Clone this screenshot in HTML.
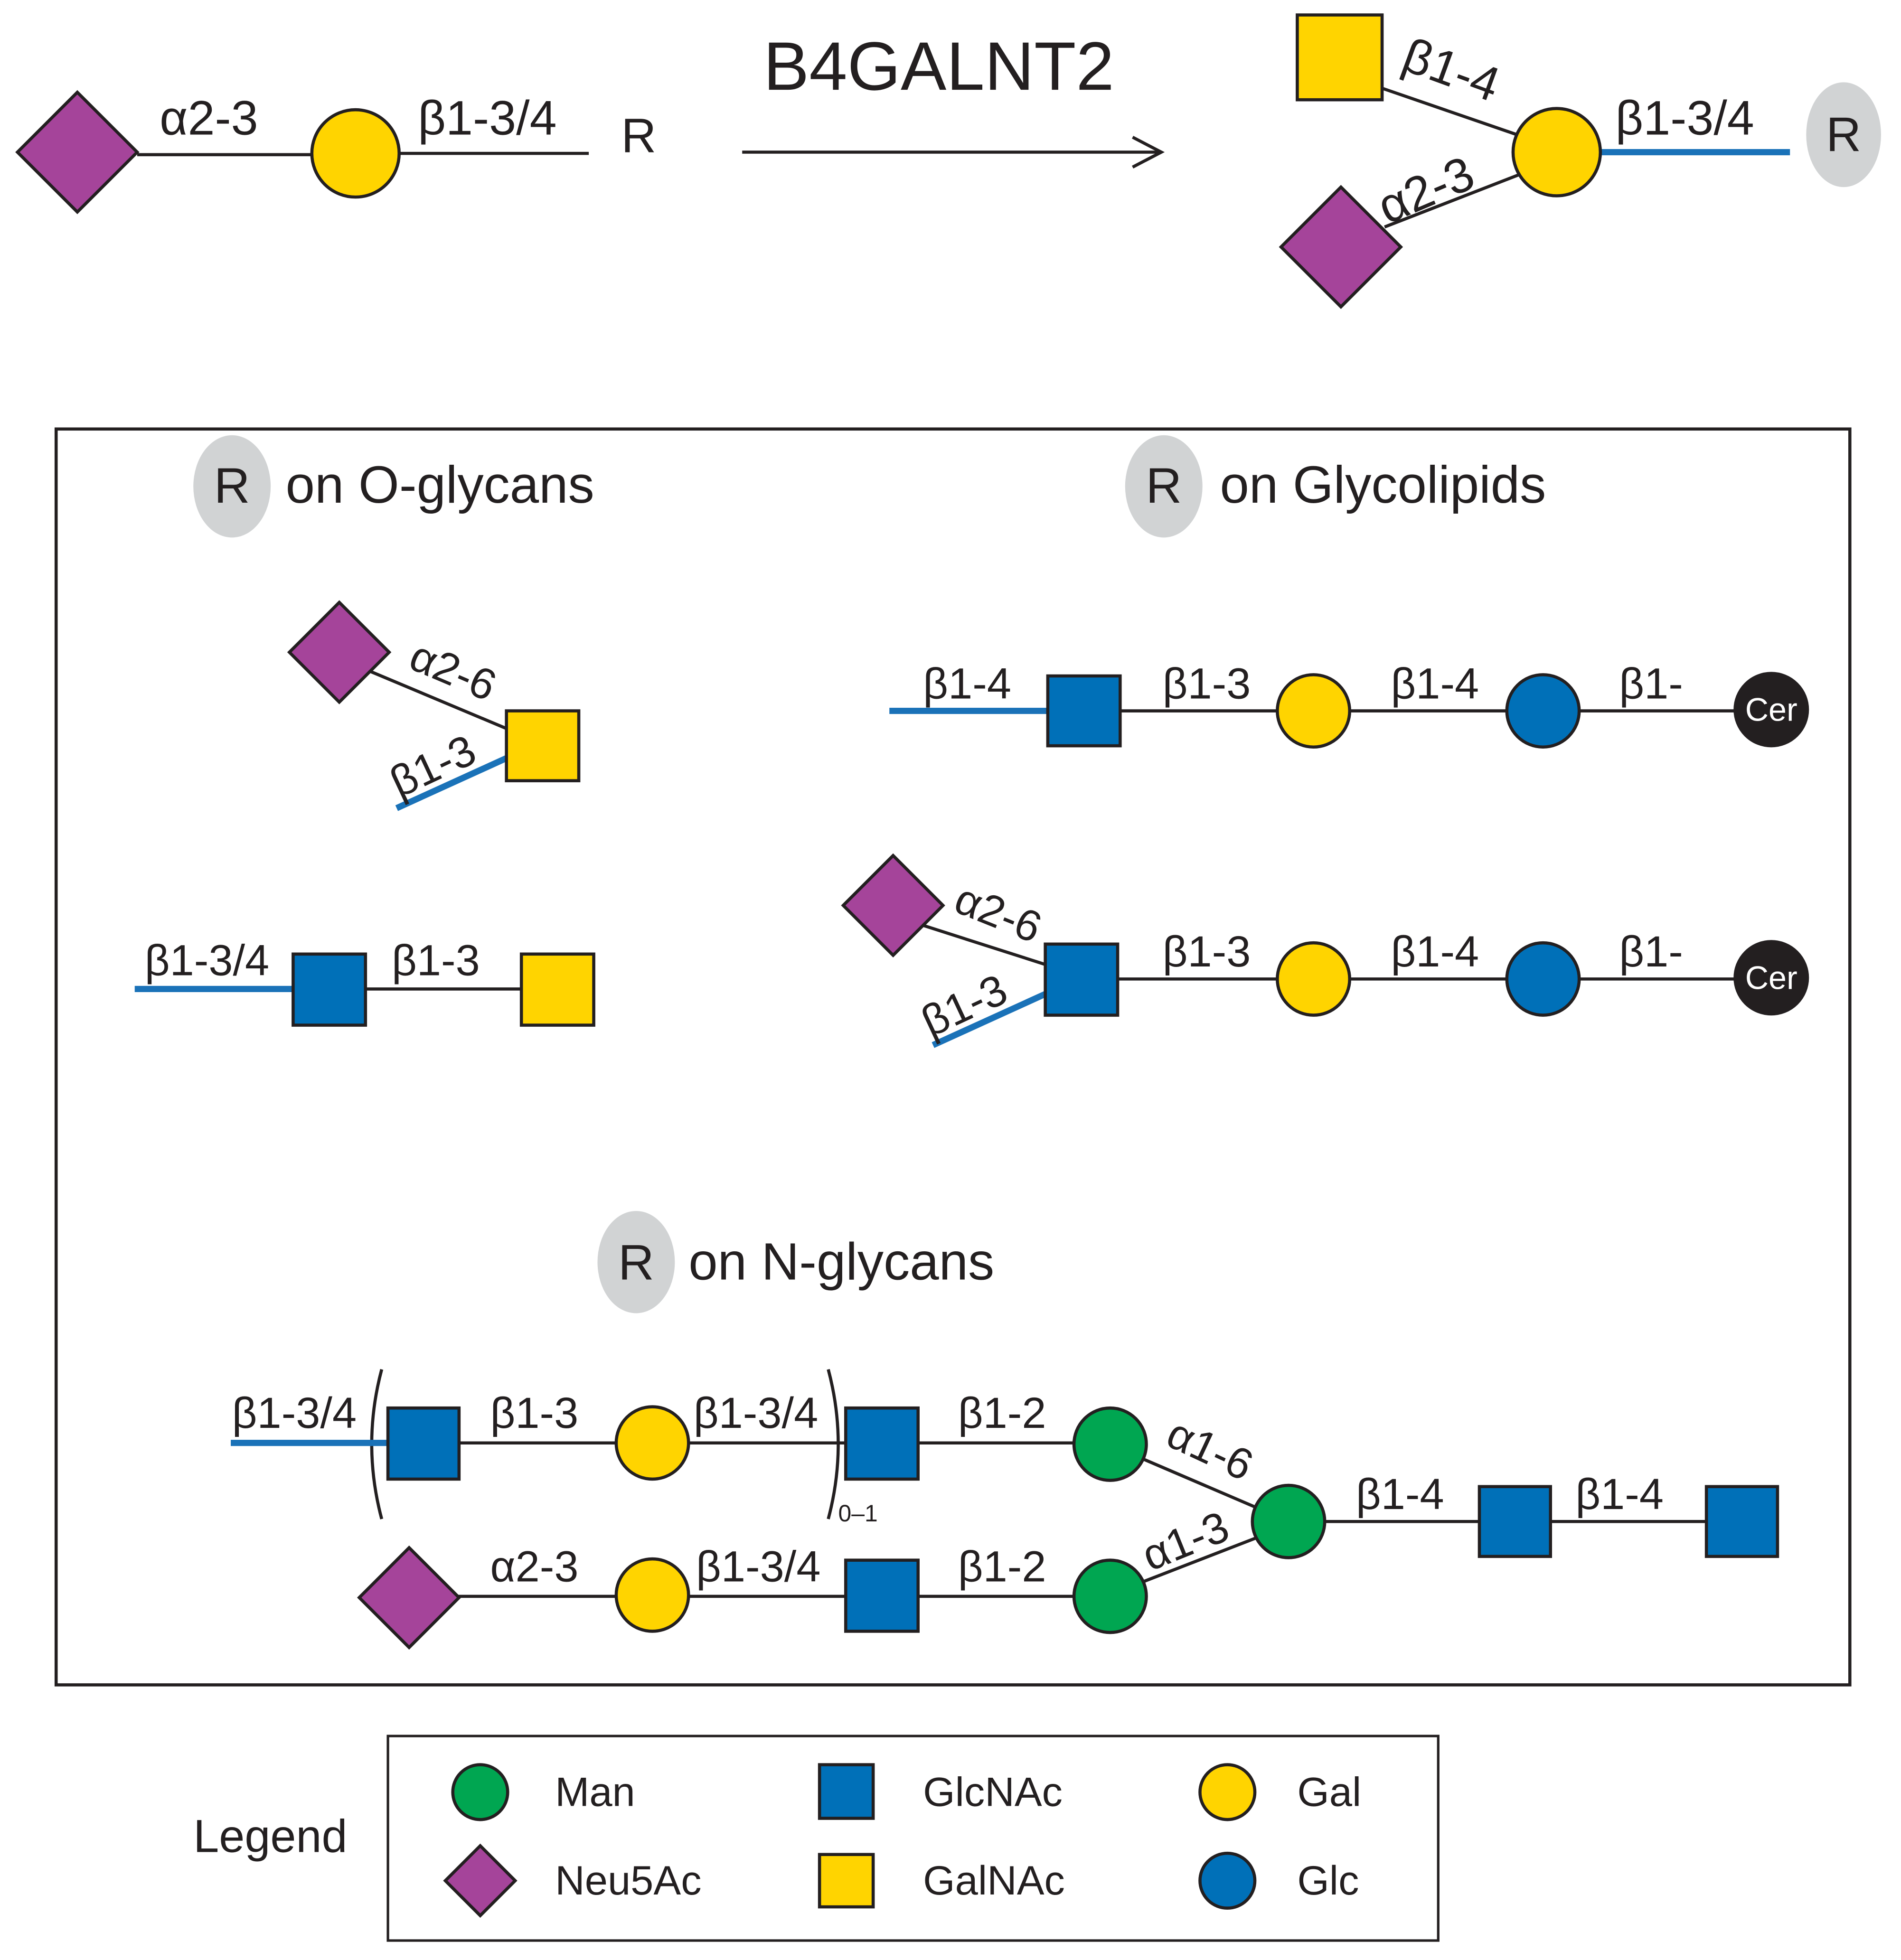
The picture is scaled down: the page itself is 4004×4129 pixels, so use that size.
<!DOCTYPE html>
<html><head><style>html,body{margin:0;padding:0;background:#fff}svg{display:block}</style></head>
<body>
<svg width="4004" height="4129" viewBox="0 0 1524 1571.6" preserveAspectRatio="none" xmlns="http://www.w3.org/2000/svg" font-family="Liberation Sans, sans-serif">
<g stroke="#231f20" stroke-width="2.5" fill="none">
<line x1="110" y1="124" x2="250" y2="124"/>
<line x1="320" y1="123" x2="472" y2="123"/>
<line x1="595" y1="122" x2="930" y2="122"/>
<polyline points="908,110 931,122 908,134"/>
<line x1="1100" y1="68" x2="1222" y2="110"/>
<line x1="1110" y1="182" x2="1218" y2="140"/>
<rect x="45" y="344" width="1438" height="1007"/>
<line x1="296" y1="538" x2="408" y2="585"/>
<line x1="293" y1="793" x2="418" y2="793"/>
<line x1="898" y1="570" x2="1420" y2="570"/>
<line x1="740" y1="742" x2="840" y2="774"/>
<line x1="896" y1="785" x2="1420" y2="785"/>
<line x1="368" y1="1157" x2="862" y2="1157"/>
<line x1="912" y1="1168" x2="1010" y2="1210"/>
<line x1="1062" y1="1220" x2="1368" y2="1220"/>
<line x1="365" y1="1280" x2="862" y2="1280"/>
<line x1="912" y1="1270" x2="1010" y2="1232"/>
<path d="M306,1098 Q290,1158 306,1218"/>
<path d="M664,1098 Q680,1158 664,1218"/>
<rect x="311" y="1392" width="842" height="164" stroke-width="2"/>
</g>
<g stroke="#1a72b8" stroke-width="5">
<line x1="1283" y1="122" x2="1435" y2="122"/>
<line x1="318" y1="648" x2="408" y2="607"/>
<line x1="108" y1="793" x2="236" y2="793"/>
<line x1="713" y1="570" x2="840" y2="570"/>
<line x1="748" y1="838" x2="838" y2="797"/>
<line x1="185" y1="1157" x2="310" y2="1157"/>
</g>
<g stroke="#231f20" stroke-width="2.5">
<g fill="#a5449a">
<polygon points="62,74 110,122 62,170 14,122"/>
<polygon points="1075,150 1123,198 1075,246 1027,198"/>
<polygon points="272,483 312,523 272,563 232,523"/>
<polygon points="716,686 756,726 716,766 676,726"/>
<polygon points="328,1241 368,1281 328,1321 288,1281"/>
<polygon points="385,1480 413,1508 385,1536 357,1508"/>
</g>
<g fill="#ffd400">
<circle cx="285" cy="123" r="35"/>
<rect x="1040" y="12" width="68" height="68"/>
<circle cx="1248" cy="122" r="35"/>
<rect x="406" y="570" width="58" height="56"/>
<rect x="418" y="765" width="58" height="57"/>
<circle cx="1053" cy="570" r="29"/>
<circle cx="1053" cy="785" r="29"/>
<circle cx="523" cy="1157" r="29"/>
<circle cx="523" cy="1279" r="29"/>
<rect x="657" y="1487" width="43" height="42"/>
<circle cx="984" cy="1437" r="22"/>
</g>
<g fill="#0070b8">
<rect x="235" y="765" width="58" height="57"/>
<rect x="840" y="542" width="58" height="56"/>
<rect x="838" y="757" width="58" height="57"/>
<rect x="311" y="1129" width="57" height="57"/>
<rect x="678" y="1129" width="58" height="57"/>
<rect x="678" y="1251" width="58" height="57"/>
<rect x="1186" y="1192" width="57" height="56"/>
<rect x="1368" y="1192" width="57" height="56"/>
<rect x="657" y="1415" width="43" height="43"/>
<circle cx="1237" cy="570" r="29"/>
<circle cx="1237" cy="785" r="29"/>
<circle cx="984" cy="1508" r="22"/>
</g>
<g fill="#00a651">
<circle cx="890" cy="1158" r="29"/>
<circle cx="890" cy="1280" r="29"/>
<circle cx="1033" cy="1220" r="29"/>
<circle cx="385" cy="1437" r="22"/>
</g>
<g fill="#231f20">
<circle cx="1420" cy="569" r="29"/>
<circle cx="1420" cy="784" r="29"/>
</g>
</g>
<g fill="#d1d3d4">
<ellipse cx="1478" cy="108" rx="30" ry="42"/>
<ellipse cx="186" cy="390" rx="31" ry="41"/>
<ellipse cx="933" cy="390" rx="31" ry="41"/>
<ellipse cx="510" cy="1012" rx="31" ry="41"/>
</g>
<g fill="#231f20" font-size="39">
<text x="128" y="108">α2-3</text>
<text x="335" y="108">β1-3/4</text>
<text x="498" y="122">R</text>
<text x="612" y="72" font-size="55">B4GALNT2</text>
<text x="1295" y="108">β1-3/4</text>
<text x="1478" y="121" text-anchor="middle">R</text>
<text transform="translate(1122,55) rotate(20)">β1-4</text>
<text transform="translate(1112,180) rotate(-23)">α2-3</text>
<text x="186" y="403" text-anchor="middle" font-size="40">R</text>
<text x="229" y="403" font-size="42">on O-glycans</text>
<text x="933" y="403" text-anchor="middle" font-size="40">R</text>
<text x="978" y="403" font-size="42">on Glycolipids</text>
<text x="510" y="1026" text-anchor="middle" font-size="40">R</text>
<text x="552" y="1026" font-size="42">on N-glycans</text>
</g>
<g fill="#231f20" font-size="35">
<text transform="translate(326,535) rotate(23)">α2-6</text>
<text transform="translate(320,640) rotate(-25)">β1-3</text>
<text x="116" y="782">β1-3/4</text>
<text x="314" y="782">β1-3</text>
<text x="740" y="560">β1-4</text>
<text x="932" y="560">β1-3</text>
<text x="1115" y="560">β1-4</text>
<text x="1298" y="560">β1-</text>
<text transform="translate(763,730) rotate(22)">α2-6</text>
<text transform="translate(746,832) rotate(-25)">β1-3</text>
<text x="932" y="775">β1-3</text>
<text x="1115" y="775">β1-4</text>
<text x="1298" y="775">β1-</text>
<text x="186" y="1145">β1-3/4</text>
<text x="393" y="1145">β1-3</text>
<text x="556" y="1145">β1-3/4</text>
<text x="768" y="1145">β1-2</text>
<text transform="translate(933,1158) rotate(25)">α1-6</text>
<text x="1087" y="1210">β1-4</text>
<text x="1263" y="1210">β1-4</text>
<text x="393" y="1268">α2-3</text>
<text x="558" y="1268">β1-3/4</text>
<text x="768" y="1268">β1-2</text>
<text transform="translate(922,1260) rotate(-22)">α1-3</text>
<text x="672" y="1220" font-size="19">0–1</text>
</g>
<g fill="#fff" font-size="26" text-anchor="middle">
<text x="1420" y="578">Cer</text>
<text x="1420" y="793">Cer</text>
</g>
<g fill="#231f20" font-size="33">
<text x="155" y="1485" font-size="37">Legend</text>
<text x="445" y="1448">Man</text>
<text x="445" y="1519">Neu5Ac</text>
<text x="740" y="1448">GlcNAc</text>
<text x="740" y="1519">GalNAc</text>
<text x="1040" y="1448">Gal</text>
<text x="1040" y="1519">Glc</text>
</g>
</svg>
</body></html>
